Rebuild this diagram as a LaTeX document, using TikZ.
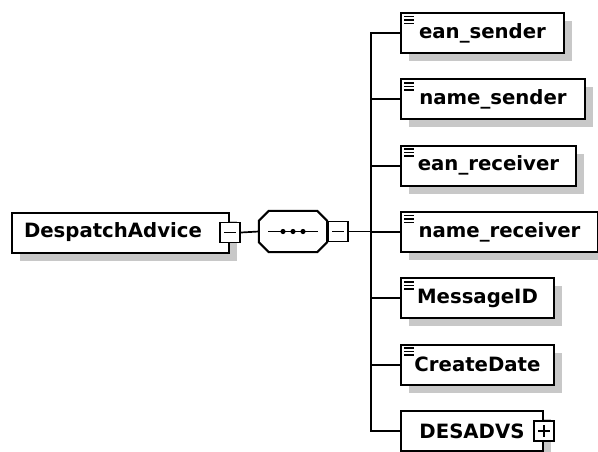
\documentclass[tikz,border=0pt]{standalone}
\usepackage{fontspec}
\setmainfont{DejaVu Sans}
\usetikzlibrary{positioning, shadows}

\definecolor{shadowgray}{RGB}{200,200,200}

% outline of the sequence compositor, around node seq
\newcommand\seqpath{([xshift=10pt]seq.north west) -- ([xshift=-10pt]seq.north east) -- ([yshift=-10pt]seq.north east)
    -- ([yshift=10pt]seq.south east) -- ([xshift=-10pt]seq.south east) -- ([xshift=10pt]seq.south west)
    -- ([yshift=10pt]seq.south west) -- ([yshift=-10pt]seq.north west) -- cycle}

\tikzset{
    box/.style = {draw, fill=white, line width=2pt, minimum height=40pt, inner sep=0pt,
        font=\fontsize{19.7}{22}\selectfont\bfseries,
        general shadow={fill=shadowgray, shadow xshift=8pt, shadow yshift=-8pt}},
    elem/.style = {box, anchor=west,
        path picture={
            \foreach \d in {3.5,7,10.5}
                \draw [black, line width=1.5pt] ([xshift=3pt, yshift=-\d pt]path picture bounding box.north west) -- ++(10pt,0pt);
        }},
    tog/.style = {draw, fill=white, line width=1.7pt, minimum size=20pt, inner sep=0pt},
    minus/.style = {tog,
        path picture={
            \draw [black, line width=1.5pt] ([xshift=4pt]path picture bounding box.west) -- ([xshift=-4pt]path picture bounding box.east);
        }},
    plus/.style = {tog,
        path picture={
            \draw [black, line width=1.5pt] ([xshift=4pt]path picture bounding box.west) -- ([xshift=-4pt]path picture bounding box.east);
            \draw [black, line width=1.5pt] ([yshift=4pt]path picture bounding box.south) -- ([yshift=-4pt]path picture bounding box.north);
        }},
    link/.style = {line width=1.7pt},
}

\begin{document}
\begin{tikzpicture} [x=1pt, y=-1pt, node distance=66.33pt]
    \useasboundingbox (0,0) rectangle (598,451);

    % root element and its sequence
    \node (root) [box, anchor=west, minimum width=217pt, text width=193pt, inner xsep=12pt, align=left] at (11,232.5) {DespatchAdvice};
    \node (rm) [minus] at (root.east) {};
    \node (seq) [minimum width=68pt, minimum height=41pt, inner sep=0pt] at (293,231.5) {};
    \fill [shadowgray, xshift=8pt, yshift=-8pt] \seqpath;
    \filldraw [fill=white, line width=2pt] \seqpath;
    \draw [line width=1.7pt] ([xshift=-25pt]seq.center) -- ([xshift=25pt]seq.center);
    \foreach \dx in {-10,0,10}
        \fill ([xshift=\dx pt]seq.center) circle (2.6pt);
    \node (sm) [minus, right=0pt of seq] {};
    \coordinate (fork) at ([xshift=22pt]sm.east);

    % child elements
    \node (e1) [elem, minimum width=163pt] at (400,33) {ean\_sender};
    \node (e2) [elem, below=of e1.west, anchor=west, minimum width=184pt] {name\_sender};
    \node (e3) [elem, below=of e2.west, anchor=west, minimum width=175pt] {ean\_receiver};
    \node (e4) [elem, below=of e3.west, anchor=west, minimum width=197pt] {name\_receiver};
    \node (e5) [elem, below=of e4.west, anchor=west, minimum width=153pt] {MessageID};
    \node (e6) [elem, below=of e5.west, anchor=west, minimum width=153pt] {CreateDate};
    \node (e7) [box, below=of e6.west, anchor=west, minimum width=142pt] {DESADVS};
    \node (pm) [plus] at (e7.east) {};

    \draw [link] (rm.east) -- (seq.west);
    \draw [link] (sm.east) -- (fork);
    \foreach \i in {1,...,7}
        \draw [link] (fork) |- (e\i.west);
\end{tikzpicture}
\end{document}
